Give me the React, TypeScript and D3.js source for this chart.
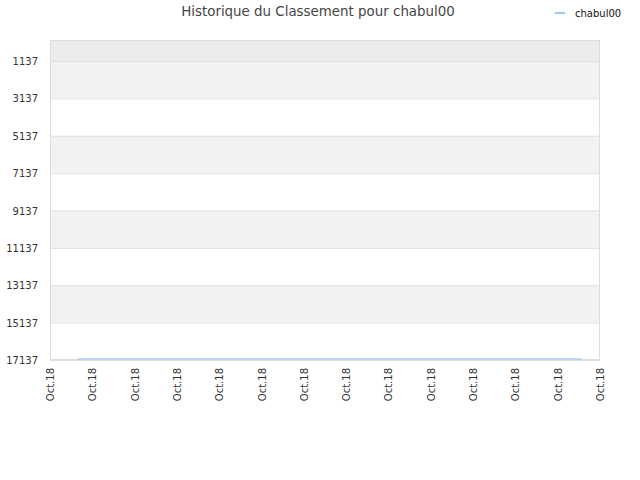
import React from "react";
import * as d3 from "d3";

const title = "Historique du Classement pour chabul00";
const seriesName = "chabul00";
const yTicks = [1137, 3137, 5137, 7137, 9137, 11137, 13137, 15137, 17137];
const xTickLabels = Array.from({ length: 14 }, () => "Oct.18");
// positions along the x axis (in tick units) and rank values
const pointX = [0.66, 12.57];
const pointRank = [17137, 17137];

const width = 640;
const height = 480;
const margin = { top: 40, right: 40, bottom: 120, left: 50 };

const App: React.FC = () => {
  const innerW = width - margin.left - margin.right;
  const innerH = height - margin.top - margin.bottom;

  const x = d3.scaleLinear().domain([0, xTickLabels.length - 1]).range([0, innerW]);
  const y = d3.scaleLinear().domain([13, 17137]).range([0, innerH]);

  const line = d3
    .line<number>()
    .x((_, i) => x(pointX[i]))
    .y((d) => y(d) - 1);

  // alternating bands between ticks
  const bandEdges = [y.domain()[0], ...yTicks];
  const bands = bandEdges.slice(0, -1).map((v, i) => ({
    y0: y(v),
    y1: y(bandEdges[i + 1]),
    fill: i === 0 ? "#ececec" : i % 2 === 1 ? "#f2f2f2" : "#ffffff",
  }));

  return (
    <svg
      width={width}
      height={height}
      style={{ position: "absolute", left: 0, top: 0, fontFamily: "DejaVu Sans" }}
    >
      <rect width={width} height={height} fill="#fff" />
      <text x={318} y={16} textAnchor="middle" fontSize={13.4} fill="#444">
        {title}
      </text>
      <line x1={555} x2={565} y1={13} y2={13} stroke="#99c7f5" strokeWidth={2} />
      <text x={575} y={17} fontSize={10} fill="#111">
        {seriesName}
      </text>
      <g transform={`translate(${margin.left},${margin.top})`}>
        {bands.map((b, i) => (
          <rect key={i} x={0} y={b.y0} width={innerW} height={b.y1 - b.y0} fill={b.fill} />
        ))}
        {yTicks.map((t) => (
          <g key={t}>
            <line x1={0} x2={innerW} y1={y(t) + 0.5} y2={y(t) + 0.5} stroke="#e0e0e0" />
            <text x={-12} y={y(t) + 4} textAnchor="end" fontSize={10} fill="#333">
              {t}
            </text>
          </g>
        ))}
        <rect
          x={0.5}
          y={0.5}
          width={innerW - 1}
          height={innerH - 1}
          fill="none"
          stroke="#dddddd"
        />
        <path d={line(pointRank) ?? ""} fill="none" stroke="#a8cdf0" strokeWidth={1.5} />
        {xTickLabels.map((lab, i) => (
          <text
            key={i}
            transform={`translate(${x(i) + 4},${innerH + 8}) rotate(-90)`}
            textAnchor="end"
            fontSize={10}
            fill="#333"
          >
            {lab}
          </text>
        ))}
      </g>
    </svg>
  );
};

export default App;
